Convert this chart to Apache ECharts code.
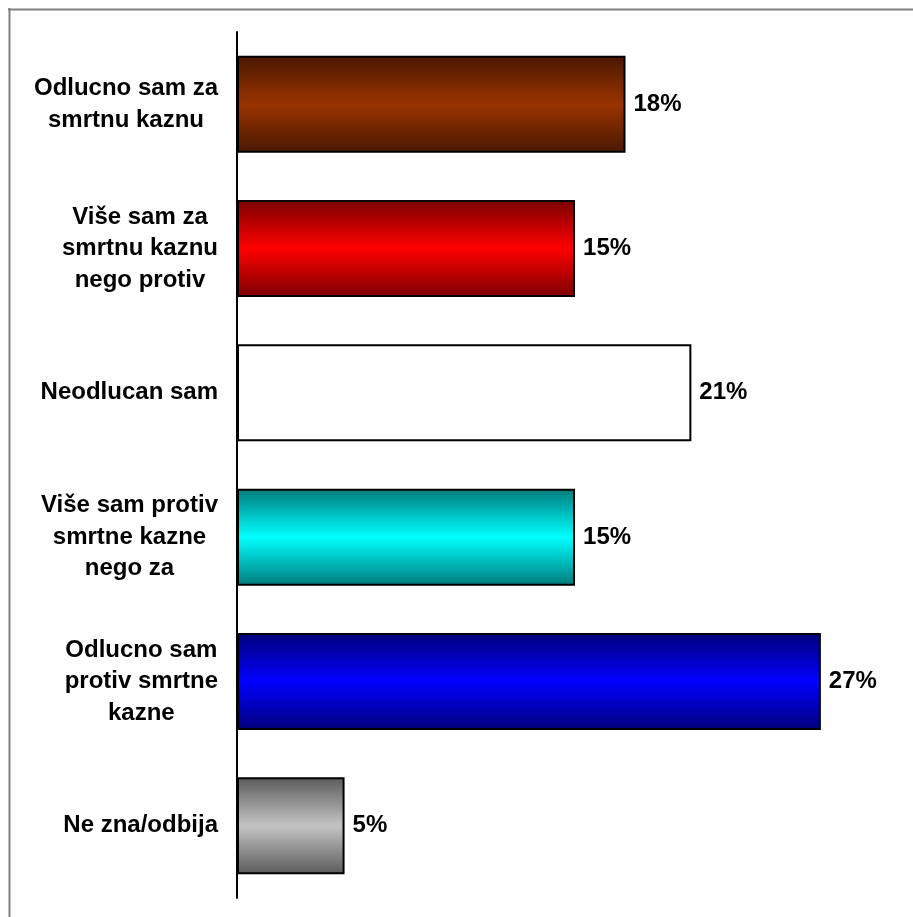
<!DOCTYPE html>
<html>
<head>
<meta charset="utf-8">
<script src="https://cdn.jsdelivr.net/npm/echarts@6/dist/echarts.min.js"></script>
<style>
html,body{margin:0;padding:0;background:#fff;}
#chart{width:913px;height:917px;}
</style>
</head>
<body>
<div id="chart"></div>
<script>
const categories = [
  "Odlucno sam za\nsmrtnu kaznu",
  "Više sam za\nsmrtnu kaznu\nnego protiv",
  "Neodlucan sam",
  "Više sam protiv\nsmrtne kazne\nnego za",
  "Odlucno sam\nprotiv smrtne\nkazne",
  "Ne zna/odbija"
];
// estimated unrounded shares (labels show rounded percent)
const values = [17.7, 15.4, 20.7, 15.4, 26.6, 4.9];

const palette = [
  ["#4a1800", "#993300"],
  ["#7a0000", "#ff0000"],
  ["#ffffff", "#ffffff"],
  ["#007a7a", "#00ffff"],
  ["#00007a", "#0000ff"],
  ["#5a5a5a", "#c4c4c4"]
];

function grad(edge, mid) {
  return new echarts.graphic.LinearGradient(0, 0, 0, 1, [
    {offset: 0, color: edge},
    {offset: 0.5, color: mid},
    {offset: 1, color: edge}
  ]);
}

const FONT = 'Liberation Sans, Arial, sans-serif';

const chart = echarts.init(document.getElementById('chart'));
chart.setOption({
  animation: false,
  backgroundColor: '#fff',
  grid: {left: 237, right: 17.5, top: 32, bottom: 19, containLabel: false},
  xAxis: {
    type: 'value', min: 0, max: 30, show: false
  },
  yAxis: {
    type: 'category',
    data: categories,
    inverse: true,
    axisLine: {show: true, lineStyle: {color: '#000', width: 2}},
    axisTick: {show: false},
    axisLabel: {
      margin: 19,
      align: 'right',
      fontFamily: FONT,
      fontWeight: 'bold',
      fontSize: 24,
      lineHeight: 31.5,
      color: '#000',
      formatter: v => v.split('\n').map(l => '{c|' + l + '}').join('\n'),
      rich: {
        c: {
          align: 'center',
          fontFamily: FONT,
          fontWeight: 'bold',
          fontSize: 24,
          lineHeight: 31.5,
          color: '#000'
        }
      }
    }
  },
  series: [{
    type: 'bar',
    barWidth: 97,
    data: values.map((v, i) => ({
      value: v,
      itemStyle: {color: grad(palette[i][0], palette[i][1])}
    })),
    itemStyle: {borderColor: '#000', borderWidth: 2},
    label: {
      show: true,
      position: 'right',
      distance: 8,
      formatter: p => Math.round(p.value) + '%',
      fontFamily: FONT,
      fontWeight: 'bold',
      fontSize: 24,
      color: '#000'
    }
  }],
  graphic: [
    {type: 'line', shape: {x1: 8, y1: 9.5, x2: 913, y2: 9.5}, style: {stroke: '#808080', lineWidth: 2}},
    {type: 'line', shape: {x1: 9.5, y1: 8, x2: 9.5, y2: 917}, style: {stroke: '#808080', lineWidth: 2}}
  ]
});
</script>
</body>
</html>
